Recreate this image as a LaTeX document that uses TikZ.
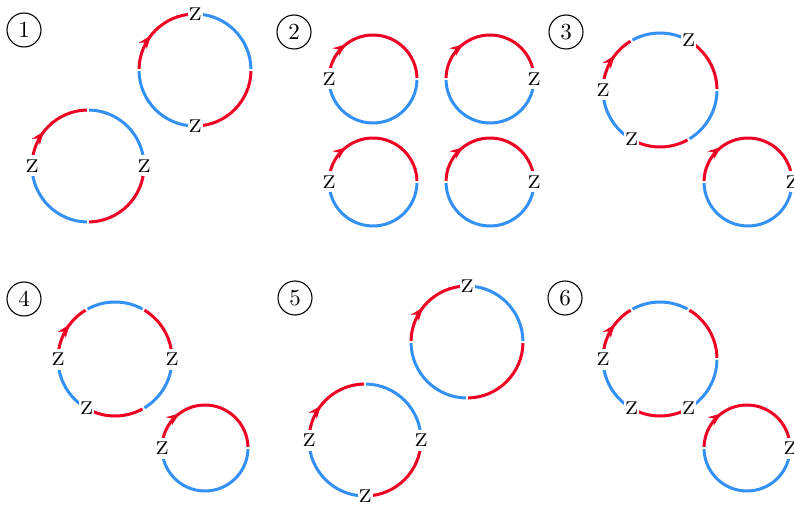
\documentclass[tikz,border=0pt]{standalone}
\usepackage{fontspec}
\setmainfont{lmroman10-regular.otf}
\usetikzlibrary{arrows.meta,decorations.markings}
\definecolor{ringred}{RGB}{238,0,36}
\definecolor{ringblue}{RGB}{51,145,245}
\tikzset{
  seg/.style={line width=3pt},
  zlab/.style={fill=white, inner sep=0pt, minimum width=15pt, minimum height=21pt, font=\fontsize{18.5}{18.5}\selectfont},
  numcirc/.style={circle, draw, line width=1.1pt, minimum size=34pt, inner sep=0pt, font=\fontsize{23}{23}\selectfont},
  arrowed/.style={postaction={decorate}, decoration={markings, mark=at position #1 with {\arrow{Stealth[length=13pt,width=10pt]}}}},
}
% #1 centre, #2 radius, #3 number of arcs, #4 arrow distance
\newcommand\drawring[4]{%
  \pgfmathsetmacro\ringgap{1.1/#2*57.2958}%
  \pgfmathtruncatemacro\ringlast{#3-1}%
  \foreach \i in {0,...,\ringlast}{%
    \pgfmathsetmacro\aS{180-\i*360/#3-\ringgap}%
    \pgfmathsetmacro\aE{180-(\i+1)*360/#3+\ringgap}%
    \ifodd\i \def\rc{ringblue}\else\def\rc{ringred}\fi
    \ifnum\i=0
      \draw[seg,\rc,arrowed=#4] ([shift={(\aS:#2)}]#1) arc[start angle=\aS,end angle=\aE,radius=#2];
    \else
      \draw[seg,\rc] ([shift={(\aS:#2)}]#1) arc[start angle=\aS,end angle=\aE,radius=#2];
    \fi
  }%
}
% #1 centre, #2 radius, #3 angle list
\newcommand\drawzees[3]{%
  \foreach \z in {#3}{\node[zlab] (#1-z\z) at ([shift={(\z:#2)}]#1) {\scalebox{1.15}[1]{Z}};}%
}
\begin{document}
\begin{tikzpicture}[x=1pt,y=1pt]
\useasboundingbox (0,0) rectangle (794,504);
% panel 1
\node[numcirc] (n1) at (24,474) {1};
\coordinate (c1a) at (195,434);
\coordinate (c1b) at (88,338);
\drawring{c1a}{56}{4}{36pt}
\drawring{c1b}{56}{4}{36pt}
\drawzees{c1a}{56}{90,270}
\drawzees{c1b}{56}{180,0}
% panel 2
\node[numcirc] (n2) at (294,472) {2};
\coordinate (c2a) at (373,425);
\coordinate (c2b) at (490,425);
\coordinate (c2c) at (373,322);
\coordinate (c2d) at (490,322);
\drawring{c2a}{44}{2}{39pt}
\drawring{c2b}{44}{2}{39pt}
\drawring{c2c}{44}{2}{39pt}
\drawring{c2d}{44}{2}{39pt}
\drawzees{c2a}{44}{180}
\drawzees{c2b}{44}{0}
\drawzees{c2c}{44}{180}
\drawzees{c2d}{44}{0}
% panel 3
\node[numcirc] (n3) at (566,472) {3};
\coordinate (c3a) at (660,414);
\coordinate (c3b) at (748,322);
\drawring{c3a}{57}{6}{36pt}
\drawring{c3b}{44}{2}{39pt}
\drawzees{c3a}{57}{180,60,240}
\drawzees{c3b}{44}{0}
% panel 4
\node[numcirc] (n4) at (24,205) {4};
\coordinate (c4a) at (115,145);
\coordinate (c4b) at (205,56);
\drawring{c4a}{57}{6}{36pt}
\drawring{c4b}{43}{2}{39pt}
\drawzees{c4a}{57}{180,0,240}
\drawzees{c4b}{43}{180}
% panel 5
\node[numcirc] (n5) at (295,206) {5};
\coordinate (c5a) at (467,162);
\coordinate (c5b) at (365,64);
\drawring{c5a}{56}{4}{36pt}
\drawring{c5b}{56}{4}{36pt}
\drawzees{c5a}{56}{90}
\drawzees{c5b}{56}{180,0,270}
% panel 6
\node[numcirc] (n6) at (565,206) {6};
\coordinate (c6a) at (660,145);
\coordinate (c6b) at (747,56);
\drawring{c6a}{57}{6}{36pt}
\drawring{c6b}{43}{2}{39pt}
\drawzees{c6a}{57}{180,240,300}
\drawzees{c6b}{43}{0}
\end{tikzpicture}
\end{document}
